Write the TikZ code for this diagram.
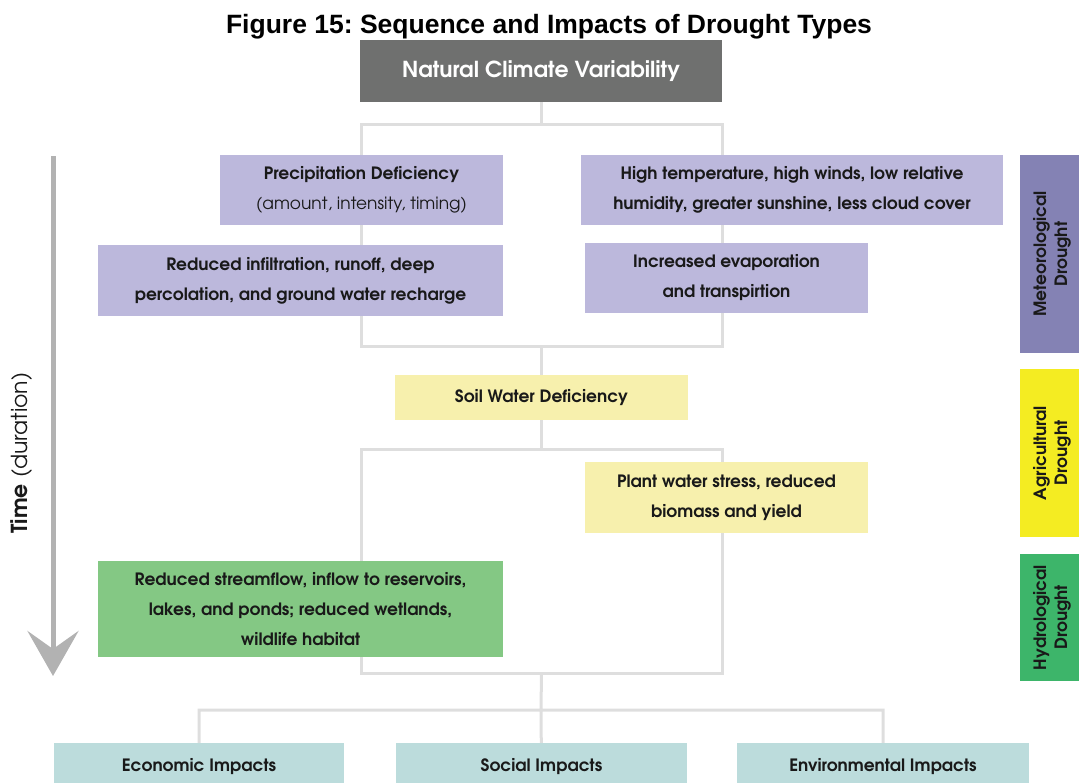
\documentclass[tikz,border=0pt]{standalone}
\usepackage{fontspec}
\setmainfont{texgyreadventor}[Extension=.otf, UprightFont=*-regular, BoldFont=*-bold, ItalicFont=*-italic, BoldItalicFont=*-bolditalic]
\newfontfamily\titlefont{Liberation Sans}
\usetikzlibrary{arrows.meta,backgrounds}
\frenchspacing

\definecolor{ncvgray}{RGB}{111,112,111}
\definecolor{lav}{RGB}{188,184,220}
\definecolor{meteo}{RGB}{132,130,180}
\definecolor{paleyel}{RGB}{247,240,173}
\definecolor{agri}{RGB}{244,236,34}
\definecolor{palegrn}{RGB}{132,200,132}
\definecolor{hydro}{RGB}{61,181,106}
\definecolor{impact}{RGB}{188,220,220}
\definecolor{linkgray}{RGB}{222,222,222}
\definecolor{timegray}{RGB}{178,178,178}

\tikzset{
  box/.style={rectangle, inner sep=0pt, align=center, text=black!90,
    font=\fontsize{17}{30}\selectfont\bfseries},
  side/.style={box, rotate=90, minimum height=64pt,
    font=\fontsize{17}{21}\selectfont\bfseries},
  link/.style={linkgray, line width=3pt},
}

\begin{document}
\begin{tikzpicture}[x=1pt,y=-1pt]
    \useasboundingbox (0,0) rectangle (1079,782);

    \node[font=\titlefont\bfseries\fontsize{26.5}{30}\selectfont] (title) at (549,27) {Figure 15: Sequence and Impacts of Drought Types};

    \node[box, fill=ncvgray, text=white, minimum width=362pt, minimum height=62pt,
      font=\fontsize{22}{24}\selectfont\bfseries] (ncv) at (541,71) {Natural Climate Variability};

    \node[box, fill=lav, minimum width=283pt, minimum height=70pt] (prec) at (361.5,190)
      {Precipitation Deficiency\\\mdseries(amount, intensity, timing)};
    \node[box, fill=lav, minimum width=422pt, minimum height=70pt] (heat) at (792,190)
      {High temperature, high winds, low relative\\humidity, greater sunshine, less cloud cover};
    \node[box, fill=lav, minimum width=405pt, minimum height=71pt] (infil) at (300.5,280.5)
      {Reduced infiltration, runoff, deep\\percolation, and ground water recharge};
    \node[box, fill=lav, minimum width=283pt, minimum height=70pt] (evap) at (726.5,278)
      {Increased evaporation\\and transpirtion};

    \node[box, fill=paleyel, minimum width=293pt, minimum height=45pt] (soil) at (541.5,397.5)
      {Soil Water Deficiency};
    \node[box, fill=paleyel, minimum width=283pt, minimum height=71pt] (plant) at (726.5,497.5)
      {Plant water stress, reduced\\biomass and yield};

    \node[box, fill=palegrn, minimum width=405pt, minimum height=96pt] (stream) at (300.5,609)
      {Reduced streamflow, inflow to reservoirs,\\lakes, and ponds; reduced wetlands,\\wildlife habitat};

    \node[box, fill=impact, minimum width=290pt, minimum height=48pt] (econ) at (199,767) {Economic Impacts};
    \node[box, fill=impact, minimum width=291pt, minimum height=48pt] (soc) at (541.5,767) {Social Impacts};
    \node[box, fill=impact, minimum width=292pt, minimum height=48pt] (env) at (883,767) {Environmental Impacts};

    \node[side, fill=meteo, minimum width=198pt] (met) at (1052,254) {Meteorological\\Drought};
    \node[side, fill=agri, minimum width=168pt] (agr) at (1052,453) {Agricultural\\Drought};
    \node[side, fill=hydro, minimum width=127pt] (hyd) at (1052,617.5) {Hydrological\\Drought};

    \node[rotate=90, font=\fontsize{22}{24}\selectfont, text=black!90] (time) at (22,453)
      {\textbf{Time} (duration)};
    \coordinate (tstart) at (53,156);
    \coordinate (tend) at (53,676);
    \draw[timegray, line width=5pt, -{Stealth[length=45pt, width=51pt, inset=18pt]}] (tstart) -- (tend);

    \coordinate (f1a) at (361,124);
    \coordinate (f1b) at (722,346);
    \coordinate (f2a) at (361,449);
    \coordinate (f2b) at (722,673);
    \coordinate (f3) at (541,710);

    \begin{scope}[on background layer]
        \draw[link] (f1a) rectangle (f1b) (f2a) rectangle (f2b);
        \draw[link] (ncv) -- (ncv |- f1a);
        \draw[link] (soil) -- (soil |- f1b) (soil) -- (soil |- f2a);
        \draw[link] (soil |- f2b) -- (f3) (econ) |- (f3) -| (env) (soc) -- (f3);
    \end{scope}

\end{tikzpicture}
\end{document}
